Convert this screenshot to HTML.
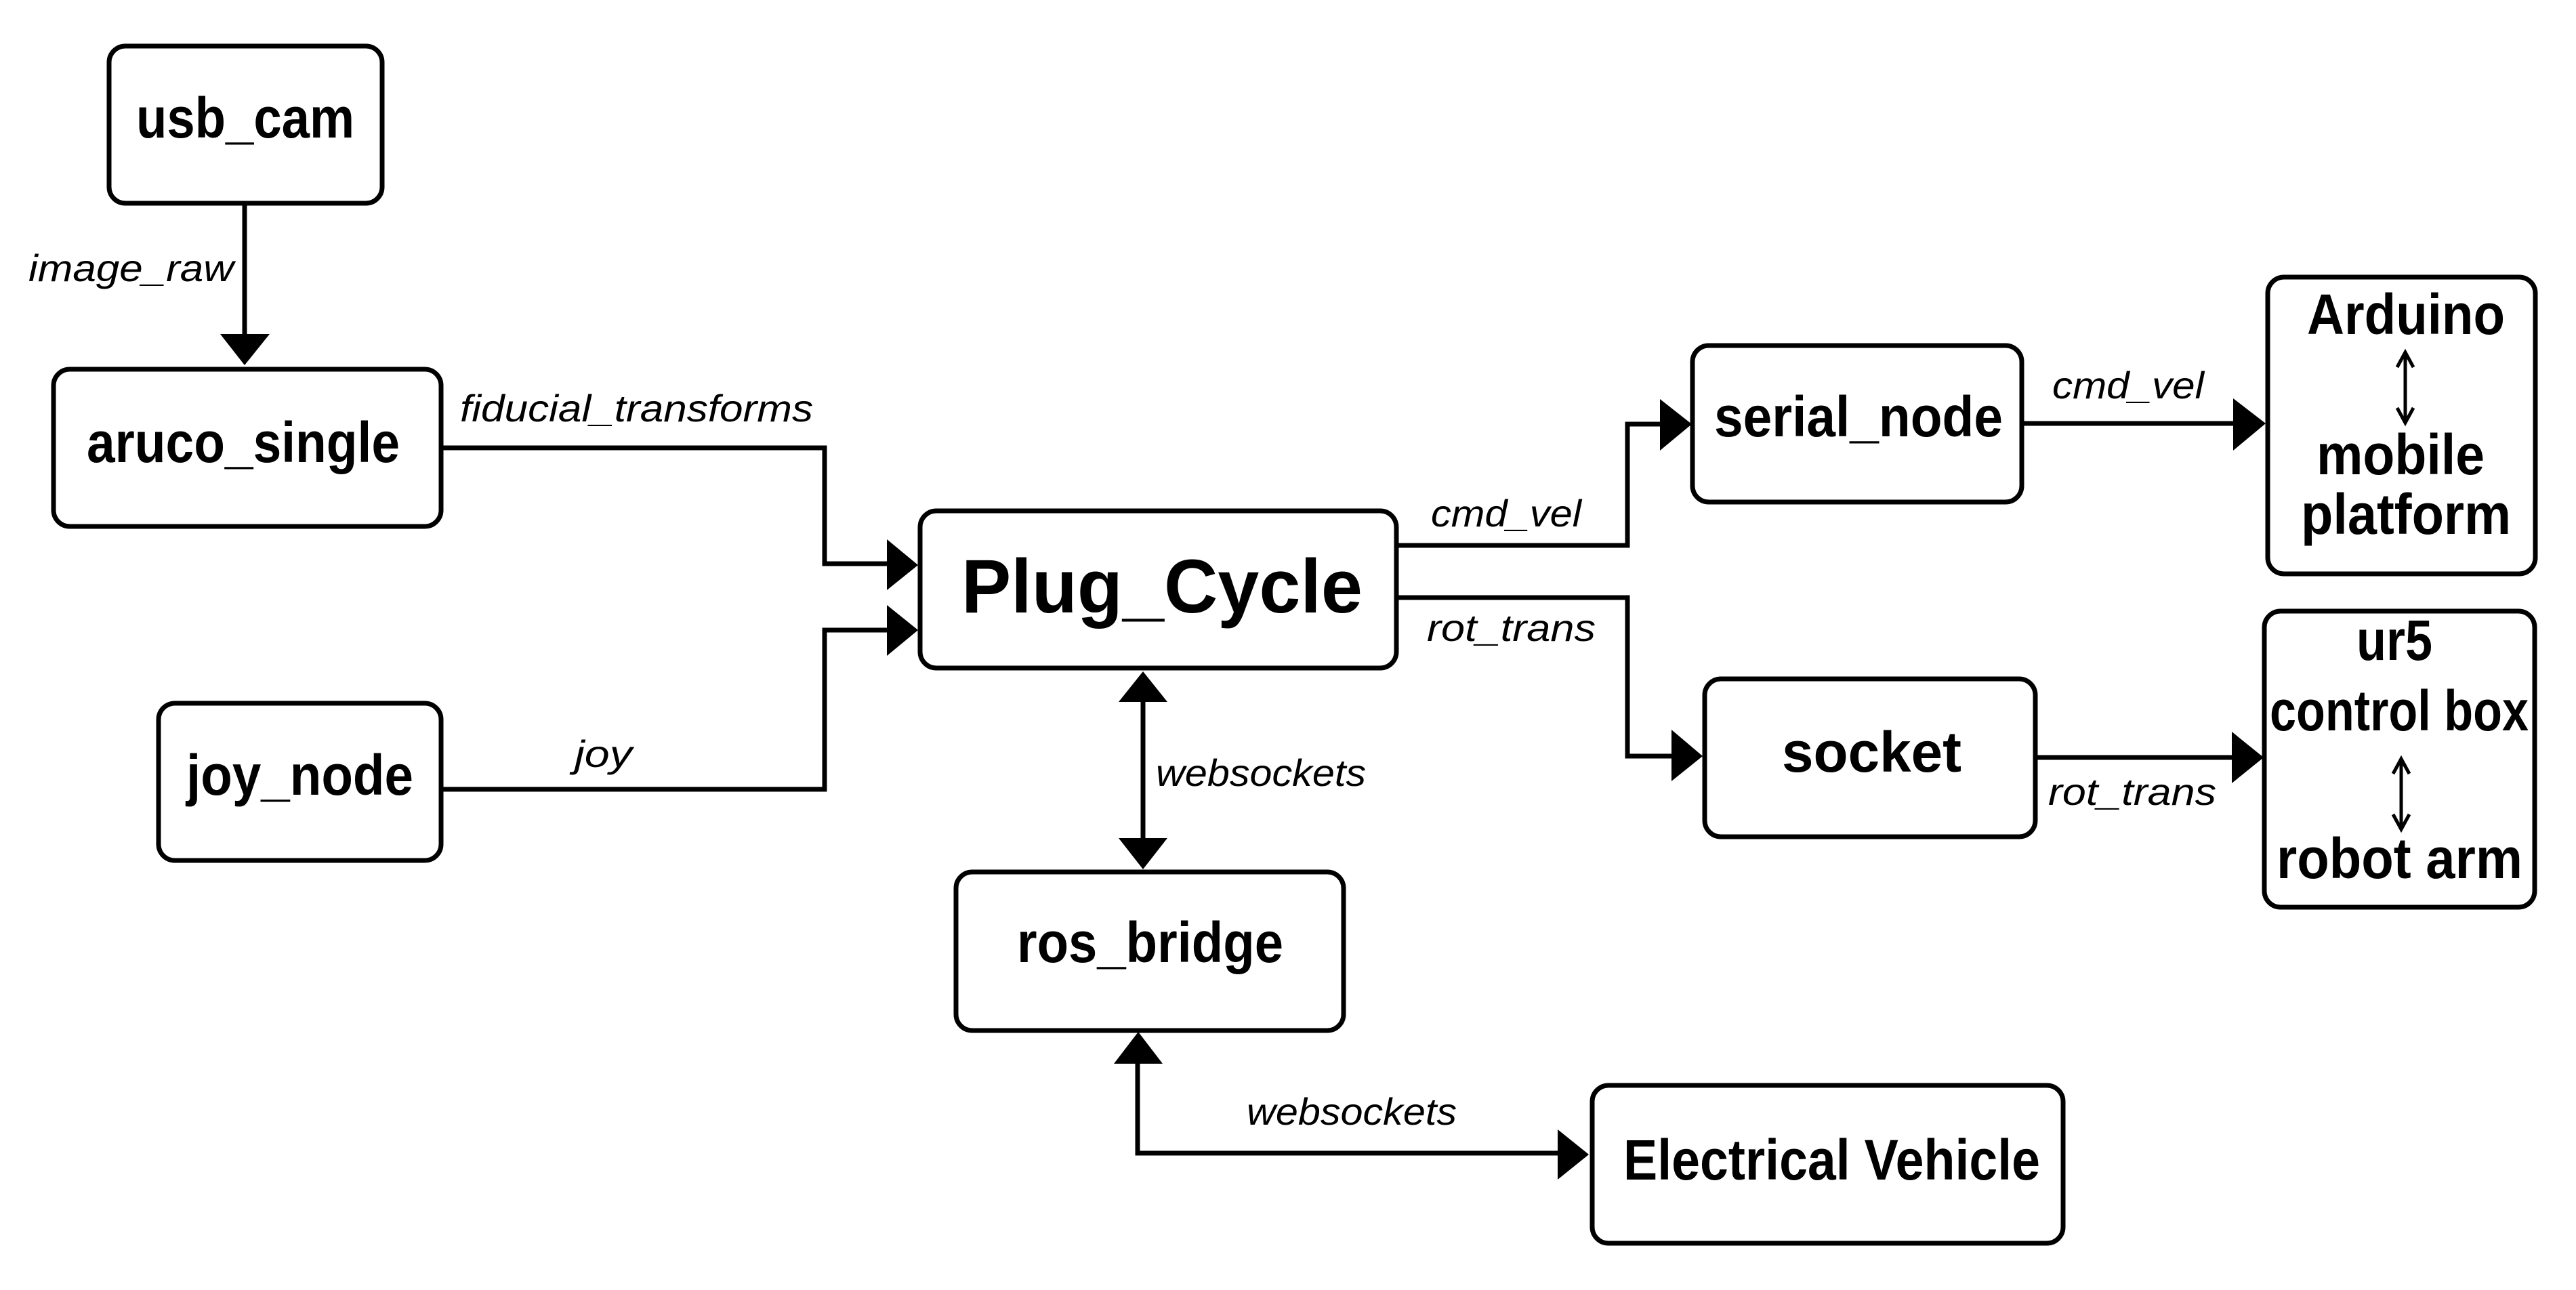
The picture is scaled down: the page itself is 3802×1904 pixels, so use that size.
<!DOCTYPE html>
<html><head><meta charset="utf-8"><style>html,body{margin:0;padding:0;background:#fff}svg{display:block}</style></head>
<body>
<svg width="3802" height="1904" viewBox="0 0 3802 1904" xmlns="http://www.w3.org/2000/svg">
<g fill="none" stroke="#000" stroke-width="7">
<rect x="161" y="68" width="403" height="232" rx="24"/>
<rect x="79" y="545" width="572" height="232" rx="24"/>
<rect x="234" y="1038" width="417" height="232" rx="24"/>
<rect x="1358" y="754" width="703" height="232" rx="24"/>
<rect x="2498" y="510" width="486" height="231" rx="24"/>
<rect x="2516" y="1002" width="488" height="233" rx="24"/>
<rect x="3347" y="409" width="395" height="438" rx="24"/>
<rect x="3342" y="902" width="399" height="437" rx="24"/>
<rect x="1411" y="1287" width="572" height="234" rx="24"/>
<rect x="2350" y="1602" width="695" height="233" rx="24"/>
<polyline points="361,300 361,495"/>
<polyline points="651,661 1217,661 1217,832 1312,832"/>
<polyline points="651,1165 1217,1165 1217,930 1312,930"/>
<polyline points="2061,805 2402,805 2402,626 2452,626"/>
<polyline points="2984,625 3298,625"/>
<polyline points="2061,882 2402,882 2402,1116 2469,1116"/>
<polyline points="3004,1118 3296,1118"/>
<polyline points="1687,1034 1687,1240"/>
<polyline points="1679,1566 1679,1702 2302,1702"/>
</g>
<g fill="#000">
<polygon points="325,493 398,493 361,539"/>
<polygon points="1309,796 1355,834 1309,871"/>
<polygon points="1309,893 1355,930 1309,968"/>
<polygon points="2450,589 2497,626 2450,665"/>
<polygon points="3296,588 3344,625 3296,665"/>
<polygon points="2467,1077 2513,1116 2467,1153"/>
<polygon points="3294,1080 3341,1118 3294,1156"/>
<polygon points="1651,1036 1723,1036 1687,991"/>
<polygon points="1651,1237 1723,1237 1687,1283"/>
<polygon points="1644,1570 1716,1570 1680,1523"/>
<polygon points="2299,1667 2345,1704 2299,1741"/>
</g>
<g fill="none" stroke="#000" stroke-width="5">
<line x1="3550" y1="522" x2="3550" y2="622"/>
<polyline points="3538,542 3550,520 3562,542"/>
<polyline points="3538,602 3550,624 3562,602"/>
<line x1="3544" y1="1122" x2="3544" y2="1222"/>
<polyline points="3532,1142 3544,1120 3556,1142"/>
<polyline points="3532,1202 3544,1224 3556,1202"/>
</g>
<g font-family="'Liberation Sans', sans-serif" font-weight="bold" fill="#000" font-size="84">
<text x="201" y="203" textLength="322" lengthAdjust="spacingAndGlyphs">usb_cam</text>
<text x="128" y="682" textLength="462" lengthAdjust="spacingAndGlyphs">aruco_single</text>
<text x="275" y="1173" textLength="335" lengthAdjust="spacingAndGlyphs">joy_node</text>
<text x="1419" y="904" font-size="112" textLength="592" lengthAdjust="spacingAndGlyphs">Plug_Cycle</text>
<text x="2530" y="644" textLength="426" lengthAdjust="spacingAndGlyphs">serial_node</text>
<text x="2630" y="1139" textLength="265" lengthAdjust="spacingAndGlyphs">socket</text>
<text x="1501" y="1420" textLength="393" lengthAdjust="spacingAndGlyphs">ros_bridge</text>
<text x="2396" y="1741" textLength="615" lengthAdjust="spacingAndGlyphs">Electrical Vehicle</text>
<text x="3405" y="493" textLength="292" lengthAdjust="spacingAndGlyphs">Arduino</text>
<text x="3419" y="700" textLength="248" lengthAdjust="spacingAndGlyphs">mobile</text>
<text x="3396" y="788" textLength="310" lengthAdjust="spacingAndGlyphs">platform</text>
<text x="3478" y="974" textLength="112" lengthAdjust="spacingAndGlyphs">ur5</text>
<text x="3350" y="1078" textLength="382" lengthAdjust="spacingAndGlyphs">control box</text>
<text x="3360" y="1296" textLength="363" lengthAdjust="spacingAndGlyphs">robot arm</text>
</g>
<g font-family="'Liberation Sans', sans-serif" font-style="italic" fill="#000" font-size="56">
<text x="42" y="415" textLength="303" lengthAdjust="spacingAndGlyphs">image_raw</text>
<text x="679" y="622" textLength="521" lengthAdjust="spacingAndGlyphs">fiducial_transforms</text>
<text x="848" y="1132" textLength="85" lengthAdjust="spacingAndGlyphs">joy</text>
<text x="1706" y="1160" textLength="310" lengthAdjust="spacingAndGlyphs">websockets</text>
<text x="2112" y="777" textLength="222" lengthAdjust="spacingAndGlyphs">cmd_vel</text>
<text x="2106" y="946" textLength="249" lengthAdjust="spacingAndGlyphs">rot_trans</text>
<text x="3029" y="588" textLength="224" lengthAdjust="spacingAndGlyphs">cmd_vel</text>
<text x="3023" y="1188" textLength="248" lengthAdjust="spacingAndGlyphs">rot_trans</text>
<text x="1840" y="1660" textLength="310" lengthAdjust="spacingAndGlyphs">websockets</text>
</g>
</svg>
</body></html>
